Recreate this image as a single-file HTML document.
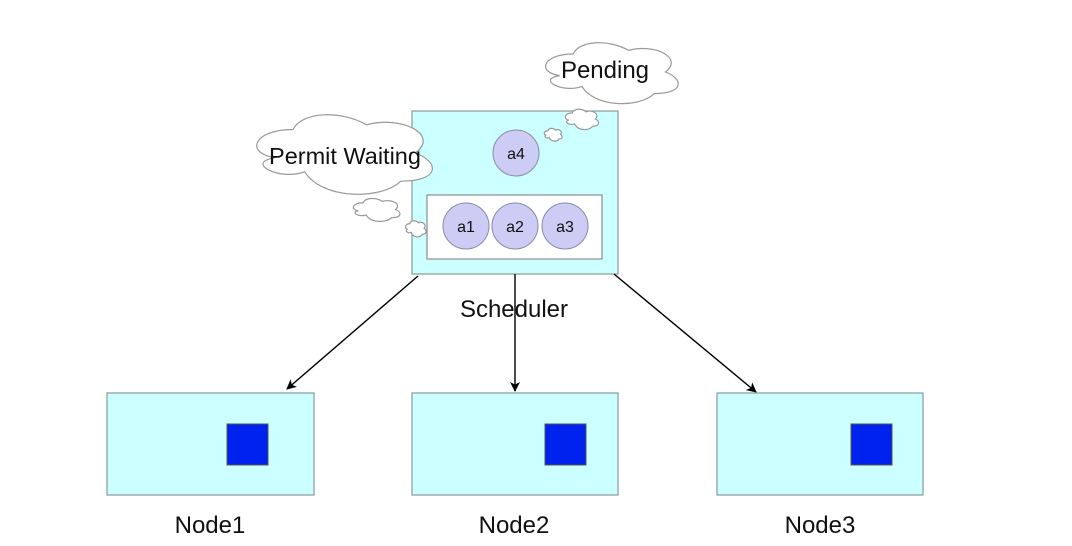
<!DOCTYPE html>
<html><head><style>body{margin:0;background:#fff}svg{display:block}</style></head><body>
<svg width="1072" height="546" viewBox="0 0 1072 546" xmlns="http://www.w3.org/2000/svg" font-family="Liberation Sans, Arial, sans-serif">
<defs>
<marker id="ah" markerWidth="10" markerHeight="10" refX="9" refY="5" orient="auto" markerUnits="userSpaceOnUse"><path d="M0,0 L10,5 L0,10 L2.5,5 Z" fill="#000"/></marker>
</defs>
<rect x="412" y="111" width="206" height="163" fill="#ccffff" stroke="#8a9a9a" stroke-width="1.2"/>
<rect x="427" y="195" width="175" height="64" fill="#fff" stroke="#777" stroke-width="1"/>
<g fill="#ccccf5" stroke="#8a8aa8" stroke-width="1">
<circle cx="516" cy="153" r="23"/><circle cx="466" cy="226" r="23"/><circle cx="515" cy="226" r="23"/><circle cx="565" cy="226" r="23"/>
</g>
<g font-size="16" text-anchor="middle" fill="#111">
<text x="516" y="159">a4</text><text x="466" y="232">a1</text><text x="515" y="232">a2</text><text x="565" y="232">a3</text>
</g>
<svg x="536" y="36" width="148" height="72" viewBox="0 0 1 1" preserveAspectRatio="none" overflow="visible"><path d="M0.25,0.25 C0.05,0.25 0,0.5 0.16,0.55 C0,0.6 0.18,0.8 0.31,0.7 C0.4,1 0.7,1 0.8,0.8 C1,0.8 1,0.6 0.875,0.5 C1,0.3 0.8,0.1 0.625,0.2 C0.5,0.05 0.3,0.05 0.25,0.25 Z" fill="#fff" stroke="#999" stroke-width="1.2" vector-effect="non-scaling-stroke"/></svg>
<svg x="244" y="106" width="196" height="94" viewBox="0 0 1 1" preserveAspectRatio="none" overflow="visible"><path d="M0.25,0.25 C0.05,0.25 0,0.5 0.16,0.55 C0,0.6 0.18,0.8 0.31,0.7 C0.4,1 0.7,1 0.8,0.8 C1,0.8 1,0.6 0.875,0.5 C1,0.3 0.8,0.1 0.625,0.2 C0.5,0.05 0.3,0.05 0.25,0.25 Z" fill="#fff" stroke="#999" stroke-width="1.2" vector-effect="non-scaling-stroke"/></svg>
<svg x="563" y="107" width="37" height="24" viewBox="0 0 1 1" preserveAspectRatio="none" overflow="visible"><path d="M0.25,0.25 C0.05,0.25 0,0.5 0.16,0.55 C0,0.6 0.18,0.8 0.31,0.7 C0.4,1 0.7,1 0.8,0.8 C1,0.8 1,0.6 0.875,0.5 C1,0.3 0.8,0.1 0.625,0.2 C0.5,0.05 0.3,0.05 0.25,0.25 Z" fill="#fff" stroke="#999" stroke-width="1.2" vector-effect="non-scaling-stroke"/></svg>
<svg x="543" y="127" width="20" height="15" viewBox="0 0 1 1" preserveAspectRatio="none" overflow="visible"><path d="M0.25,0.25 C0.05,0.25 0,0.5 0.16,0.55 C0,0.6 0.18,0.8 0.31,0.7 C0.4,1 0.7,1 0.8,0.8 C1,0.8 1,0.6 0.875,0.5 C1,0.3 0.8,0.1 0.625,0.2 C0.5,0.05 0.3,0.05 0.25,0.25 Z" fill="#fff" stroke="#999" stroke-width="1.2" vector-effect="non-scaling-stroke"/></svg>
<svg x="350" y="196" width="52" height="27" viewBox="0 0 1 1" preserveAspectRatio="none" overflow="visible"><path d="M0.25,0.25 C0.05,0.25 0,0.5 0.16,0.55 C0,0.6 0.18,0.8 0.31,0.7 C0.4,1 0.7,1 0.8,0.8 C1,0.8 1,0.6 0.875,0.5 C1,0.3 0.8,0.1 0.625,0.2 C0.5,0.05 0.3,0.05 0.25,0.25 Z" fill="#fff" stroke="#999" stroke-width="1.2" vector-effect="non-scaling-stroke"/></svg>
<svg x="404" y="219" width="23" height="19" viewBox="0 0 1 1" preserveAspectRatio="none" overflow="visible"><path d="M0.25,0.25 C0.05,0.25 0,0.5 0.16,0.55 C0,0.6 0.18,0.8 0.31,0.7 C0.4,1 0.7,1 0.8,0.8 C1,0.8 1,0.6 0.875,0.5 C1,0.3 0.8,0.1 0.625,0.2 C0.5,0.05 0.3,0.05 0.25,0.25 Z" fill="#fff" stroke="#999" stroke-width="1.2" vector-effect="non-scaling-stroke"/></svg>
<text x="605" y="78" font-size="24" text-anchor="middle" fill="#111">Pending</text>
<text x="345" y="164" font-size="23.5" text-anchor="middle" fill="#111">Permit Waiting</text>
<g stroke="#000" stroke-width="1.4" fill="none" marker-end="url(#ah)">
<line x1="418" y1="276" x2="287" y2="389"/>
<line x1="515" y1="274" x2="515" y2="391"/>
<line x1="614" y1="274" x2="756" y2="392"/>
</g>
<text x="514" y="317" font-size="24" text-anchor="middle" fill="#111">Scheduler</text>
<g fill="#ccffff" stroke="#8a9a9a" stroke-width="1.2">
<rect x="107" y="393" width="207" height="102"/><rect x="412" y="393" width="206" height="102"/><rect x="717" y="393" width="206" height="102"/>
</g>
<g fill="#0022ee" stroke="#555" stroke-width="1">
<rect x="227" y="424" width="41" height="41"/><rect x="545" y="424" width="41" height="41"/><rect x="851" y="424" width="41" height="41"/>
</g>
<g font-size="24" text-anchor="middle" fill="#111">
<text x="210" y="533">Node1</text><text x="514" y="533">Node2</text><text x="820" y="533">Node3</text>
</g>
</svg>
</body></html>
